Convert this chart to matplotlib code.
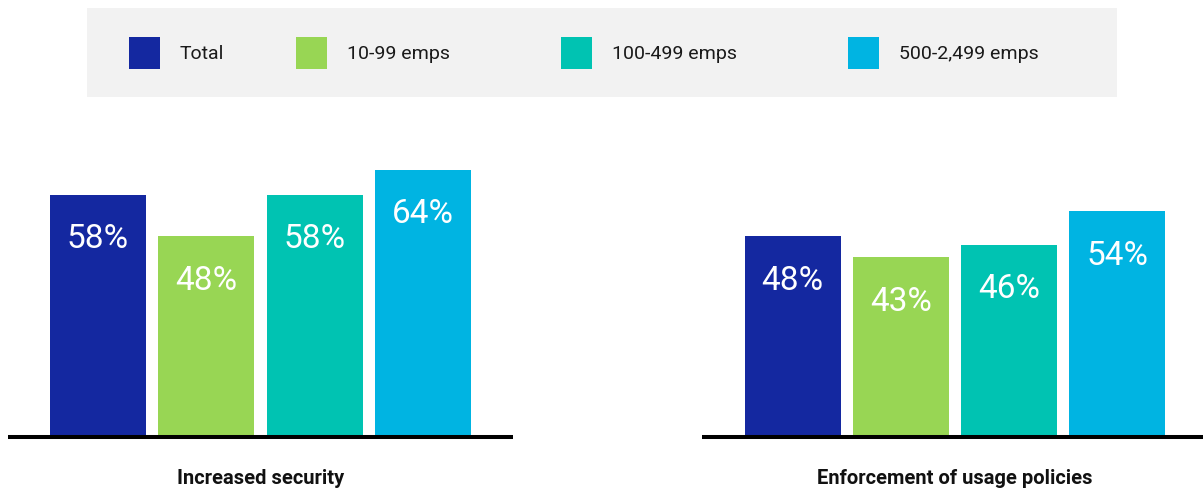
import matplotlib
matplotlib.use("Agg")
import matplotlib.pyplot as plt
from matplotlib.patches import Rectangle
from matplotlib.transforms import blended_transform_factory

plt.rcParams['font.family'] = ['Roboto', 'DejaVu Sans']

series = ["Total", "10-99 emps", "100-499 emps", "500-2,499 emps"]
colors = ["#1428A0", "#98D654", "#00C3B2", "#00B4E2"]
categories = ["Increased security", "Enforcement of usage policies"]
values = [
    [58, 48, 58, 64],
    [48, 43, 46, 54],
]

W, H = 1203, 491
fig = plt.figure(figsize=(W / 100, H / 100), dpi=100)

# panel layout in pixels: (baseline x-start, x-end, first bar center, spacing)
panels = [
    (8, 513, 98, 108.3),
    (702, 1203, 792.5, 108.2),
]
base_px = 436.5
px_per_pct = 4.17
top_pct = 100
bar_w_px = 96

for (x0, x1, c0, sp), cat, vals in zip(panels, categories, values):
    ax = fig.add_axes([x0 / W, (H - base_px) / H, (x1 - x0) / W,
                       top_pct * px_per_pct / H])
    xs = list(range(len(series)))
    ax.bar(xs, vals, width=bar_w_px / sp, color=colors, zorder=2)
    ax.set_xlim(-(c0 - x0) / sp, 3 + (x1 - (c0 + 3 * sp)) / sp)
    ax.set_ylim(0, top_pct)
    ax.axhline(0, color="black", lw=2.9, zorder=3, clip_on=False,
               solid_capstyle="butt")
    ax.axis("off")
    for x, v in zip(xs, vals):
        ax.annotate(f"{v}%", (x, v), xytext=(0, -32), textcoords="offset points",
                    ha="center", va="center", color="white", fontsize=24,
                    fontweight="normal")
    tr = blended_transform_factory(ax.transData, fig.transFigure)
    ax.text(1.5, (H - 478) / H, cat, transform=tr, ha="center", va="center",
            fontsize=14.5, fontweight="bold", color="#111111")

# legend box
fig.patches.append(Rectangle((87 / W, (H - 97) / H), (1117 - 87) / W, 89 / H,
                             transform=fig.transFigure, facecolor="#F2F2F2",
                             edgecolor="none", zorder=0))
leg_sq_x = [129, 296, 561, 848]
for sx, name, col in zip(leg_sq_x, series, colors):
    fig.patches.append(Rectangle((sx / W, (H - 69) / H), 31 / W, 32 / H,
                                 transform=fig.transFigure, facecolor=col,
                                 edgecolor="none", zorder=1))
    fig.text((sx + 51) / W, (H - 54) / H, name, ha="left", va="center",
             fontsize=14, color="#1A1A1A", fontweight="normal")

fig.savefig("out.png", dpi=100)
